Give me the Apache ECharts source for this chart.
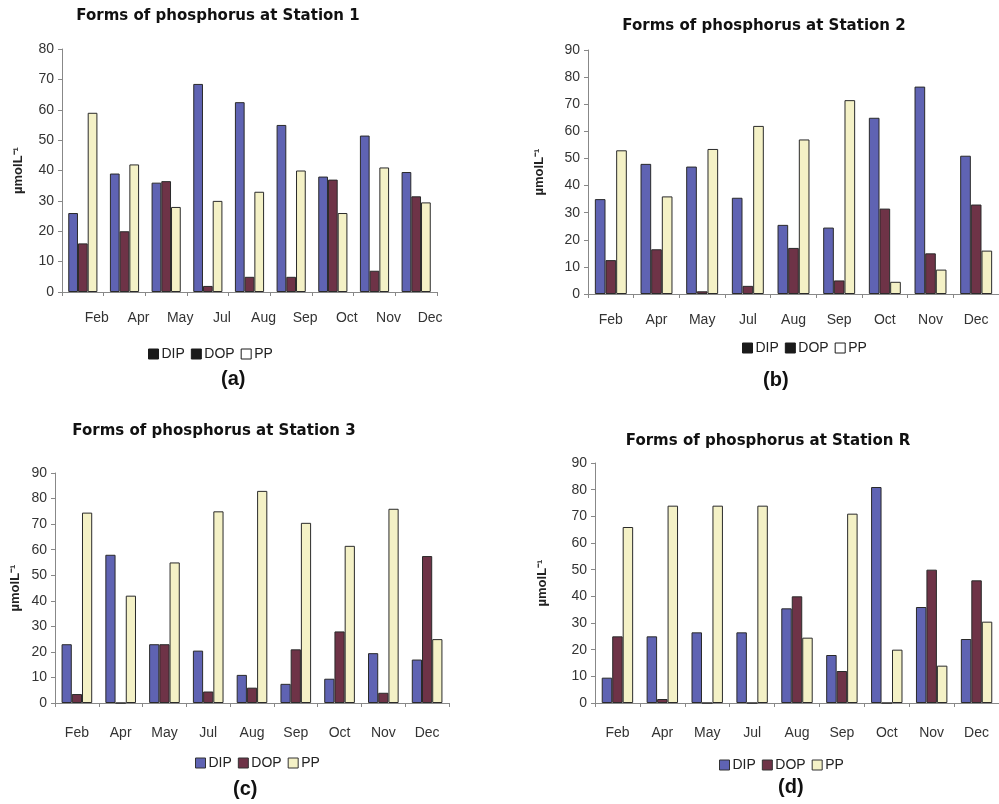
<!DOCTYPE html>
<html><head><meta charset="utf-8">
<script src="https://cdn.jsdelivr.net/npm/echarts@6/dist/echarts.min.js"></script>
<style>html,body{margin:0;padding:0;background:#fff}#c{width:999px;height:804px}</style>
</head><body><div id="c"></div>
<script>
const months = ['Feb','Apr','May','Jul','Aug','Sep','Oct','Nov','Dec'];
const seriesNames = ['DIP','DOP','PP'];
const titles = ['Forms of phosphorus at Station 1','Forms of phosphorus at Station 2','Forms of phosphorus at Station 3','Forms of phosphorus at Station R'];
const panelLabels = ['(a)','(b)','(c)','(d)'];
const yMax = [80, 90, 90, 90];
const yInterval = 10;
const yName = 'µmolL⁻¹';

const st1DIP = [26, 39, 36, 68.5, 62.5, 55, 38, 51.5, 39.5];
const st1DOP = [16, 20, 36.5, 2, 5, 5, 37, 7, 31.5];
const st1PP  = [59, 42, 28, 30, 33, 40, 26, 41, 29.5];

const st2DIP = [35, 48, 47, 35.5, 25.5, 24.5, 65, 76.5, 51];
const st2DOP = [12.5, 16.5, 1, 3, 17, 5, 31.5, 15, 33];
const st2PP  = [53, 36, 53.5, 62, 57, 71.5, 4.5, 9, 16];

const st3DIP = [23, 58, 23, 20.5, 11, 7.5, 9.5, 19.5, 17];
const st3DOP = [3.5, 0, 23, 4.5, 6, 21, 28, 4, 57.5];
const st3PP  = [74.5, 42, 55, 75, 83, 70.5, 61.5, 76, 25];

const stRDIP = [9.5, 25, 26.5, 26.5, 35.5, 18, 81, 36, 24];
const stRDOP = [25, 1.5, 0, 0, 40, 12, 0, 50, 46];
const stRPP  = [66, 74, 74, 74, 24.5, 71, 20, 14, 30.5];

const data = [[st1DIP, st1DOP, st1PP],[st2DIP, st2DOP, st2PP],[st3DIP, st3DOP, st3PP],[stRDIP, stRDOP, stRPP]];

const colors = ['#5f63b3', '#6e3347', '#f4f1c6'];
const font = 'Liberation Sans, Arial, sans-serif';
const titleFont = 'DejaVu Sans, Liberation Sans, sans-serif';

const grids = [
  {left: 62, top: 49, width: 375, height: 243},
  {left: 588, top: 50, width: 411, height: 244},
  {left: 55, top: 473, width: 394, height: 230},
  {left: 595, top: 463, width: 408, height: 240}
];
const titlePos = [[218, 15], [764, 25], [214, 430], [768, 440]];
const legendPos = [[213, 355], [807, 349], [260, 764], [784, 766]];
const letterPos = [[235, 381], [777, 382], [247, 791], [792, 789]];
const nameGaps = [37, 42, 33, 46];
const labelMargins = [19, 19, 23, 23];
const legendDark = [true, true, false, false];

const option = {
  animation: false,
  backgroundColor: '#fff',
  title: titles.map((t, i) => ({
    text: t, left: titlePos[i][0], top: titlePos[i][1] - 6, textAlign: 'center', padding: 0,
    textStyle: {fontFamily: titleFont, fontSize: 15, fontWeight: 'bold', color: '#111'}
  })),
  grid: grids,
  legend: legendPos.map((p, i) => ({
    left: p[0] - 65, top: p[1] - 8, orient: 'horizontal', padding: 0,
    itemWidth: 10, itemHeight: 10, itemGap: 6,
    textStyle: {fontFamily: font, fontSize: 14, color: '#222', padding: [0, 0, 0, -2]},
    data: seriesNames.map((n, k) => ({
      name: n, icon: 'rect',
      itemStyle: legendDark[i] ? {color: k === 2 ? '#fff' : '#1a1a1a', borderColor: '#1a1a1a', borderWidth: 1} : {color: colors[k], borderColor: '#333', borderWidth: 1}
    })),
    selectedMode: false
  })),
  xAxis: grids.map((g, i) => ({
    type: 'category', gridIndex: i, data: months,
    axisLine: {lineStyle: {color: '#888', width: 1}},
    axisTick: {show: true, length: 4, lineStyle: {color: '#888'}},
    axisLabel: Object.assign({fontFamily: font, fontSize: 14, color: '#333', margin: labelMargins[i]}, i === 0 ? {padding: [0, 0, 0, 28]} : {})
  })),
  yAxis: grids.map((g, i) => ({
    type: 'value', gridIndex: i, min: 0, max: yMax[i], interval: yInterval,
    name: yName, nameLocation: 'middle', nameRotate: 90, nameGap: nameGaps[i],
    nameTextStyle: {fontFamily: font, fontSize: 13, fontWeight: 'bold', color: '#222'},
    axisLine: {show: true, lineStyle: {color: '#888'}},
    axisTick: {show: true, length: 4, lineStyle: {color: '#888'}},
    splitLine: {show: false},
    axisLabel: {fontFamily: font, fontSize: 14, color: '#333', margin: 8}
  })),
  series: [],
  graphic: letterPos.map((p, i) => ({
    type: 'text', left: p[0] - 14, top: p[1] - 12,
    style: {text: panelLabels[i], font: 'bold 20px ' + font, fill: '#111'}
  }))
};

data.forEach((panel, i) => {
  panel.forEach((vals, k) => {
    option.series.push({
      type: 'bar', name: seriesNames[k], xAxisIndex: i, yAxisIndex: i,
      data: vals, barGap: '0%', barCategoryGap: '30%',
      itemStyle: {color: colors[k], borderColor: '#2a2a2a', borderWidth: 1}
    });
  });
});

const chart = echarts.init(document.getElementById('c'), null, {renderer: 'canvas'});
chart.setOption(option);
</script></body></html>
